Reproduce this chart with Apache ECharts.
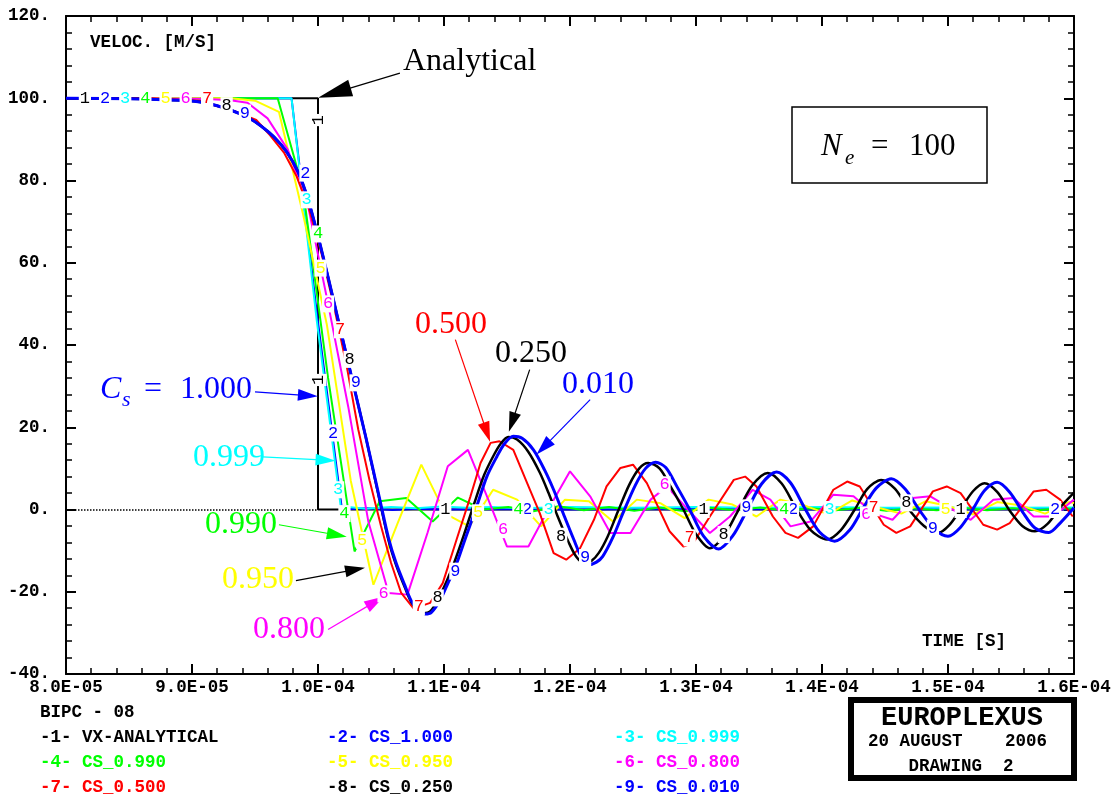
<!DOCTYPE html>
<html>
<head>
<meta charset="utf-8">
<script src="https://cdn.jsdelivr.net/npm/echarts@6.0.0/dist/echarts.min.js"></script>
<style>
html, body { margin: 0; padding: 0; background: #fff; }
#main { width: 1117px; height: 799px; }
</style>
</head>
<body>
<div id="main"></div>
<script>
// tick labels
var xTickLabels = ['8.0E-05', '9.0E-05', '1.0E-04', '1.1E-04', '1.2E-04', '1.3E-04', '1.4E-04', '1.5E-04', '1.6E-04'];
var yTickLabels = ['-40.', '-20.', '0.', '20.', '40.', '60.', '80.', '100.', '120.'];
var legendNames = ['VX-ANALYTICAL', 'CS_1.000', 'CS_0.999', 'CS_0.990', 'CS_0.950', 'CS_0.800', 'CS_0.500', 'CS_0.250', 'CS_0.010'];

// time in 1E-06 s, velocity in m/s
var vAnalytical = [[80, 100], [100, 100], [100, 0], [160, 0]];
var vCs1000 = [[80, 100], [97.9, 100], [99.9, 48], [101.9, 0], [103.9, 0.3], [105.9, -0.1], [107.9, 0.2], [110, 0], [115, 0.1], [120, 0], [130, 0.1], [140, 0], [150, 0.1], [160, 0]];
var vCs0999 = [[80, 100], [97.9, 100], [99.9, 46], [101.8, 0.8], [103.8, 0.2], [105.8, 0.6], [107.8, 0.3], [109.8, 0.7], [111.8, 0.4], [113.8, 0.6], [116, 0.3], [120, 0.6], [125, 0.4], [130, 0.6], [135, 0.4], [140, 0.6], [145, 0.4], [150, 0.5], [155, 0.4], [160, 0.5]];
var vCs0990 = [[80, 100], [96.8, 100], [98.8, 78], [100.8, 32], [102.9, -10.2], [104.9, 2], [107.0, 2.8], [109.1, -2.9], [111.1, 2.9], [113.1, 0], [115.1, 0.6], [117.1, -0.4], [119.1, 0.8], [121.1, -0.2], [123.1, 0.6], [125.1, -0.3], [127.1, 0.5], [129.1, -0.4], [131.1, 0.4], [133.1, -0.2], [135.1, 0.5], [137.1, -0.3], [139.1, 0.3], [141.1, -0.2], [143.1, 0.4], [145.1, -0.3], [147.1, 0.3], [149.1, -0.2], [151.1, 0.4], [153.1, -0.2], [155.1, 0.3], [157.1, -0.2], [159.1, 0.3], [160, 0.1]];
var vCs0950 = [[80, 100], [93.1, 100], [95.0, 99.4], [96.9, 96.7], [98.8, 72], [100.7, 45], [102.6, 7], [104.4, -18.3], [106.3, -3.5], [108.2, 10.9], [110.1, -1.0], [112.0, -4.1], [113.9, 4.8], [115.8, 2.4], [117.7, -4.1], [119.6, 2.4], [121.5, 2.0], [123.4, -2.9], [125.3, 2.4], [127.2, 1.5], [129.1, -2.1], [131.0, 2.4], [132.9, 1.2], [134.8, -1.7], [136.7, 2.4], [138.6, 1.0], [140.5, -1.2], [142.4, 2.2], [144.4, 0.5], [146.3, -1.0], [148.2, 2.0], [150.1, 0.8], [152.0, -1.2], [153.9, 1.8], [155.8, 1.0], [157.7, -1.0], [159.6, 1.8], [160, 1.6]];
var vCs0800 = [[80, 100], [90.6, 99.9], [92.9, 99.6], [94.4, 98.9], [96.0, 95.1], [97.6, 87.5], [99.2, 74], [100.8, 50], [102.4, 25], [104.0, -3], [105.6, -20.3], [107.1, -20.7], [108.7, -5.6], [110.3, 10.5], [111.9, 14.5], [113.5, 2.5], [115.0, -9.0], [116.7, -9.0], [118.3, 0.2], [120.0, 9.3], [121.6, 3.2], [123.2, -5.7], [124.8, -5.7], [126.4, 2.4], [127.7, 5.6], [129.5, -0.5], [131.1, -5.7], [132.7, -1.7], [134.5, 4.8], [135.9, 2.4], [137.5, -4.1], [139.1, -2.9], [140.9, 3.6], [142.5, 3.2], [144.1, -1.0], [145.6, -2.5], [147.2, 2.8], [148.6, 3.2], [150.2, 0.3], [151.8, -2.5], [153.6, 2.4], [155.2, 2.8], [156.8, -1.7], [158.3, -1.7], [160, 2.4]];
var vCs0500 = [[80, 100], [86.7, 100], [90.6, 99.4], [93.5, 96.7], [95.1, 94.7], [96.2, 91], [97.3, 86.8], [98.3, 81], [99.3, 73], [100.3, 62], [101.3, 49], [102.3, 34.5], [103.2, 19.4], [104.1, 7], [105.0, -4], [105.8, -13], [106.6, -20.3], [107.6, -24.1], [108.9, -22.7], [109.9, -17.9], [111.0, -7.3], [112.1, 3.2], [112.9, 11.3], [113.7, 16.2], [114.4, 16.6], [115.5, 14.5], [116.6, 6.4], [117.6, -0.9], [118.7, -10.6], [119.7, -12.2], [120.8, -9.4], [121.9, -2.5], [122.9, 5.6], [124.0, 10.1], [125.0, 10.9], [126.1, 6.4], [127.9, -5.3], [129.0, -9.0], [129.8, -8.1], [131.1, -1.7], [133.0, 7.2], [133.9, 8.0], [134.8, 5.6], [136.1, -1.7], [137.1, -5.7], [138.1, -6.9], [139.3, -4.1], [140.9, 4.8], [142.0, 6.8], [143.0, 5.6], [144.9, -3.7], [145.9, -5.7], [147.0, -4.1], [148.8, 4.4], [149.9, 5.6], [151.0, 4.0], [152.8, -3.7], [153.9, -4.9], [154.9, -3.3], [156.8, 4.4], [157.8, 4.8], [158.9, 2.4], [159.9, -1.7]];
var vCs0250 = [[80, 100], [85, 99.9], [89, 99.5], [91, 98.9], [93, 97.2], [94.5, 95.2], [95.5, 93.2], [96.5, 90.6], [97.5, 87], [98.4, 82.2], [99.2, 75.5], [100, 66.5], [100.8, 56.5], [101.8, 43.5], [102.8, 30.5], [103.8, 17.5], [104.8, 3.5], [105.6, -7.5], [106.2, -13.5], [106.9, -19], [107.4, -22.5], [108.0, -24.7], [108.4, -25.2], [108.9, -24.8], [109.5, -22], [110.2, -17.5], [110.8, -13], [111.6, -6], [112.4, 1.5], [113.2, 8.5], [114.0, 13.5], [114.5, 16], [115.1, 17.6], [115.8, 17], [116.7, 14], [117.6, 9], [118.3, 4], [119.0, -1.5], [119.9, -8], [120.5, -11.5], [121.1, -13], [121.7, -12.5], [122.3, -10.5], [123.0, -6.5], [123.8, -0.5], [124.7, 6], [125.5, 10], [126.2, 11.3], [127.1, 10], [128.0, 5.5], [129.0, 0], [130.0, -6], [131.1, -9.4], [132.2, -6.5], [133.3, -0.5], [134.5, 6], [135.7, 8.9], [136.8, 6.3], [137.9, 0.5], [139.1, -5], [140.4, -7.3], [141.5, -5], [142.6, 0], [143.6, 5], [144.7, 7.2], [145.8, 5], [146.9, 0], [148.1, -4], [149.2, -5.7], [150.1, -3.8], [151.1, 0.5], [152.0, 4.5], [152.9, 6.4], [153.9, 4.3], [154.9, -0.3], [155.9, -4], [156.9, -5.3], [157.9, -3.5], [158.9, 0.5], [160, 4.1]];
var vCs0010 = [[80, 100], [85, 99.9], [89, 99.5], [91, 98.9], [93, 97.2], [94.5, 95.2], [95.5, 93.2], [96.5, 90.6], [97.5, 87], [98.4, 82.2], [99.2, 75.5], [100, 66.5], [100.8, 56.5], [101.8, 43.5], [102.8, 30.5], [103.8, 17.5], [104.9, 2.5], [105.6, -7], [106.2, -13], [106.9, -18.5], [107.4, -22.2], [108.0, -24.5], [108.5, -25.4], [109.0, -25], [109.7, -22], [110.3, -18], [110.9, -14], [111.7, -7], [112.6, 0.8], [113.4, 8], [114.2, 12.9], [114.8, 16], [115.5, 17.8], [116.2, 17.3], [117.1, 14.5], [118.0, 9.5], [118.7, 4.8], [119.4, -0.5], [120.3, -7.3], [120.9, -11.5], [121.5, -13.4], [122.1, -12.8], [122.6, -11.4], [123.4, -6.8], [124.2, -0.9], [125.2, 6], [126.0, 10], [126.8, 11.5], [127.6, 10.2], [128.5, 5.5], [129.5, 0], [130.6, -6.5], [131.8, -9.6], [132.9, -6.5], [134.0, -0.5], [135.2, 6.2], [136.4, 9.1], [137.5, 6.5], [138.6, 0.5], [139.8, -5.5], [141.0, -7.7], [142.2, -5], [143.2, 0], [144.3, 5.2], [145.5, 7.5], [146.6, 5], [147.7, 0], [148.9, -4.7], [150.0, -6.5], [151.0, -4.3], [152.0, 0.2], [152.9, 4.6], [153.9, 6.6], [154.9, 4.2], [155.9, -0.5], [156.9, -4.5], [158.0, -5.6], [158.9, -3.3], [160, 0.4]];

// where the curve numbers are written
var tags1 = [[81.5, 100], [110.1, 0], [130.6, 0], [151, 0]];
var tags1v = [[100, 94.7], [100, 31.5]];
var tags2 = [[83.1, 100], [99.0, 81.8], [101.2, 18.6], [116.6, 0], [137.7, 0], [158.5, 0]];
var tags3 = [[84.7, 100], [99.1, 75.3], [101.6, 4.8], [118.3, 0], [140.6, 0]];
var tags4 = [[86.3, 100], [100, 67], [102.1, -1], [115.9, 0], [137, 0]];
var tags5 = [[87.9, 100], [100.2, 58.7], [103.5, -7.5], [112.7, -0.8], [149.8, 0]];
var tags6 = [[89.5, 100], [100.8, 50], [105.2, -20.5], [114.7, -4.9], [127.5, 6], [143.5, -1.3]];
var tags7 = [[91.2, 100], [101.75, 43.7], [108, -23.7], [129.5, -6.9], [144.1, 0.4]];
var tags8 = [[92.75, 98.2], [102.5, 36.5], [109.5, -21.5], [119.3, -6.5], [132.2, -6.1], [146.7, 1.6]];
var tags9 = [[94.2, 96.4], [103, 30.8], [110.9, -15], [121.2, -11.7], [134, 0.4], [148.8, -4.5]];

// arrows: start, arrow-head centre, colour, head size
var arrows = [
  [[106.5, 106.1], [101.3, 101.3], '#000000', [17, 34]],
  [[95.0, 28.6], [99.2, 27.7], '#0000ff', [12, 20]],
  [[95.6, 12.8], [100.6, 12.0], '#00ffff', [12, 20]],
  [[96.9, -3.7], [101.5, -6.2], '#00ff00', [12, 20]],
  [[98.25, -17.3], [102.95, -14.6], '#000000', [12, 20]],
  [[100.8, -29.2], [104.55, -22.4], '#ff00ff', [12, 20]],
  [[110.9, 41.3], [113.4, 18.8], '#ff0000', [12, 20]],
  [[116.8, 34.0], [115.4, 21.2], '#000000', [12, 20]],
  [[121.6, 26.7], [117.9, 15.1], '#0000ff', [12, 20]]
];

var MONO = '"Liberation Mono", "Courier New", monospace';
var SERIF = '"Liberation Serif", "Times New Roman", serif';

var defs = [
  { data: vAnalytical, color: '#000000', width: 2, tags: tags1 },
  { data: vCs1000, color: '#0000ff', width: 2, tags: tags2 },
  { data: vCs0999, color: '#00ffff', width: 2, tags: tags3 },
  { data: vCs0990, color: '#00ff00', width: 2, tags: tags4 },
  { data: vCs0950, color: '#ffff00', width: 2, tags: tags5 },
  { data: vCs0800, color: '#ff00ff', width: 2, tags: tags6 },
  { data: vCs0500, color: '#ff0000', width: 2, tags: tags7 },
  { data: vCs0250, color: '#000000', width: 2.5, tags: tags8, smooth: 0.3 },
  { data: vCs0010, color: '#0000ff', width: 3, tags: tags9, smooth: 0.3 }
];

var series = defs.map(function (d, i) {
  var pts = d.tags.map(function (c) { return { coord: c }; });
  if (i === 0) {
    tags1v.forEach(function (c) { pts.push({ coord: c, label: { rotate: 90 } }); });
  }
  return {
    type: 'line',
    name: legendNames[i],
    data: d.data,
    symbol: 'none',
    smooth: d.smooth || false,
    animation: false,
    lineStyle: { color: d.color, width: d.width },
    itemStyle: { color: d.color },
    markPoint: {
      silent: true,
      animation: false,
      symbol: 'rect',
      symbolSize: 1,
      itemStyle: { color: 'rgba(0,0,0,0)' },
      label: {
        show: true, position: 'inside', formatter: String(i + 1),
        color: d.color, fontFamily: MONO, fontSize: 17,
        backgroundColor: '#fff', padding: [0, 1]
      },
      data: pts
    }
  };
});

var lines = [[{ coord: [80, 0], symbol: 'none', lineStyle: { type: 'dotted', width: 1.5, color: '#000' } }, { coord: [100, 0], symbol: 'none' }]];
arrows.forEach(function (a) {
  lines.push([
    { coord: a[0], symbol: 'none', lineStyle: { color: a[2], width: 1.2, type: 'solid' } },
    { coord: a[1], symbol: 'triangle', symbolSize: a[3], itemStyle: { color: a[2] } }
  ]);
});
series[0].markLine = {
  silent: true, animation: false, symbol: ['none', 'none'],
  label: { show: false }, lineStyle: { color: '#000', width: 1.2, type: 'solid' },
  data: lines
};

function txt(x, y, text, font, fill, align) {
  return {
    type: 'text', x: x, y: y, silent: true,
    style: {
      text: text, font: font, fill: fill,
      textAlign: align || 'left', textVerticalAlign: 'middle',
      align: align || 'left', verticalAlign: 'middle'
    }
  };
}

var legFont = 'bold 17.5px ' + MONO;
var bigFont = '32px ' + SERIF;
var legColors = defs.map(function (d) { return d.color; });
var legX = [40, 327, 614];
var legY = [738, 763, 788];
var graphics = [
  txt(90, 43, 'VELOC. [M/S]', legFont, '#000'),
  txt(922, 642, 'TIME [S]', legFont, '#000'),
  txt(403, 62, 'Analytical', bigFont, '#000'),
  txt(100, 390, 'C', 'italic 32px ' + SERIF, '#0000ff'),
  txt(122, 400, 's', 'italic 22px ' + SERIF, '#0000ff'),
  txt(144, 390, '=', bigFont, '#0000ff'),
  txt(180, 390, '1.000', bigFont, '#0000ff'),
  txt(193, 458, '0.999', bigFont, '#00ffff'),
  txt(205, 525, '0.990', bigFont, '#00ff00'),
  txt(222, 580, '0.950', bigFont, '#ffff00'),
  txt(253, 630, '0.800', bigFont, '#ff00ff'),
  txt(415, 325, '0.500', bigFont, '#ff0000'),
  txt(495, 354, '0.250', bigFont, '#000000'),
  txt(562, 385, '0.010', bigFont, '#0000ff'),
  { type: 'rect', silent: true, shape: { x: 792, y: 107, width: 195, height: 76 }, style: { fill: 'none', stroke: '#000', lineWidth: 1.5 } },
  txt(821, 147, 'N', 'italic 31px ' + SERIF, '#000'),
  txt(845, 158, 'e', 'italic 21px ' + SERIF, '#000'),
  txt(871, 147, '=', '31px ' + SERIF, '#000'),
  txt(909, 147, '100', '31px ' + SERIF, '#000'),
  txt(40, 713, 'BIPC - 08', legFont, '#000'),
  { type: 'rect', silent: true, shape: { x: 851, y: 700, width: 223, height: 78 }, style: { fill: 'none', stroke: '#000', lineWidth: 6 } },
  txt(962, 718, 'EUROPLEXUS', 'bold 27px ' + MONO, '#000', 'center'),
  txt(868, 742, '20 AUGUST', legFont, '#000'),
  txt(1047, 742, '2006', legFont, '#000', 'right'),
  txt(961, 767, 'DRAWING  2', legFont, '#000', 'center')
];
legendNames.forEach(function (n, i) {
  graphics.push(txt(legX[i % 3], legY[Math.floor(i / 3)], '-' + (i + 1) + '- ' + n, legFont, legColors[i]));
});

function axisBase(isX, showLabel, pos) {
  return {
    type: 'value',
    position: pos,
    min: isX ? 80 : -40,
    max: isX ? 160 : 120,
    interval: isX ? 10 : 20,
    axisLine: { show: true, onZero: false, lineStyle: { color: '#000', width: 2 } },
    axisTick: { show: true, inside: true, length: 10, lineStyle: { color: '#000', width: 2 } },
    minorTick: { show: true, splitNumber: 5, length: 6, lineStyle: { color: '#000', width: 1.5 } },
    splitLine: { show: false },
    minorSplitLine: { show: false },
    axisLabel: {
      show: showLabel,
      showMinLabel: true, showMaxLabel: true,
      color: '#000', fontFamily: MONO, fontWeight: 'bold', fontSize: 17.5,
      margin: isX ? 5 : 16,
      formatter: isX
        ? function (v) { return xTickLabels[Math.round((v - 80) / 10)]; }
        : function (v) { return yTickLabels[Math.round((v + 40) / 20)]; }
    }
  };
}

var chart = echarts.init(document.getElementById('main'), null, { renderer: 'canvas' });
chart.setOption({
  animation: false,
  backgroundColor: '#ffffff',
  grid: { left: 66, right: 43, top: 16, bottom: 125, containLabel: false, outerBoundsMode: 'none' },
  xAxis: [axisBase(true, true, 'bottom'), axisBase(true, false, 'top')],
  yAxis: [axisBase(false, true, 'left'), axisBase(false, false, 'right')],
  series: series,
  graphic: graphics
});
</script>
</body>
</html>
